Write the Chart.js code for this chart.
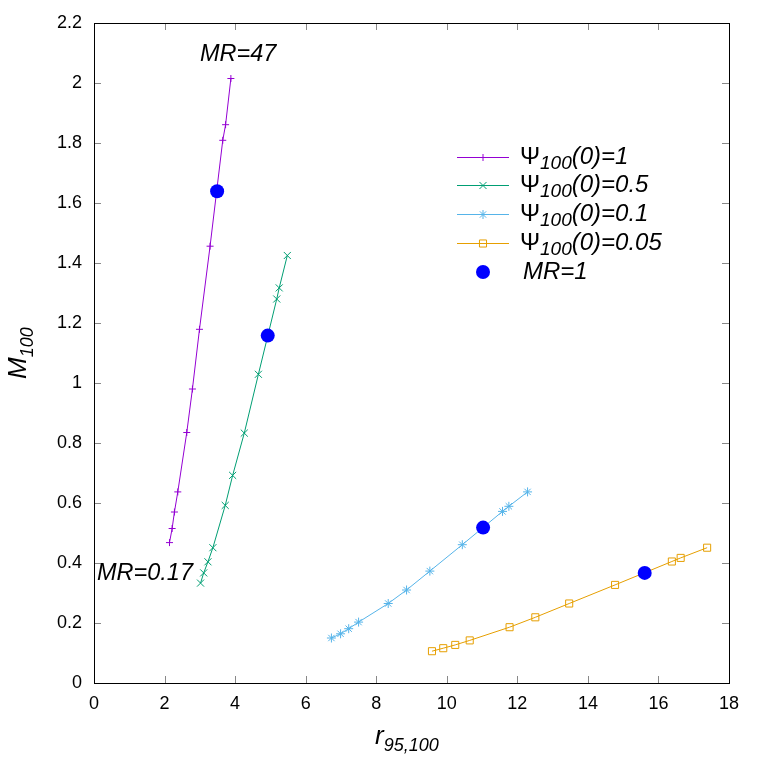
<!DOCTYPE html>
<html>
<head>
<meta charset="utf-8">
<script src="https://cdn.jsdelivr.net/npm/chart.js@4"></script>
<style>
  body { margin: 0; background: #fff; }
  #graf { display: block; }
</style>
</head>
<body>
<canvas id="graf" width="763" height="763"></canvas>
<script>
// datos
const psi1X = [2.14, 2.215, 2.28, 2.375, 2.63, 2.79, 2.99, 3.29, 3.65, 3.73, 3.88];
const psi1Y = [0.468, 0.515, 0.570, 0.637, 0.835, 0.980, 1.179, 1.456, 1.809, 1.861, 2.015];
const psi05X = [3.02, 3.11, 3.23, 3.37, 3.72, 3.93, 4.26, 4.66, 5.18, 5.25, 5.48];
const psi05Y = [0.333, 0.367, 0.404, 0.451, 0.592, 0.692, 0.833, 1.029, 1.28, 1.317, 1.425];
const psi01X = [6.73, 6.99, 7.22, 7.5, 8.34, 8.86, 9.52, 10.44, 11.58, 11.76, 12.29];
const psi01Y = [0.150, 0.164, 0.181, 0.203, 0.265, 0.310, 0.373, 0.461, 0.572, 0.589, 0.637];
const psi005X = [9.58, 9.9, 10.24, 10.65, 11.78, 12.51, 13.47, 14.77, 16.38, 16.63, 17.38];
const psi005Y = [0.106, 0.116, 0.127, 0.142, 0.186, 0.219, 0.265, 0.327, 0.405, 0.417, 0.451];
const mr1X = [3.49, 4.925, 11.03, 15.61];
const mr1Y = [1.639, 1.158, 0.518, 0.367];

const xTicks = [0, 2, 4, 6, 8, 10, 12, 14, 16, 18];
const yTicks = [0, 0.2, 0.4, 0.6, 0.8, 1, 1.2, 1.4, 1.6, 1.8, 2, 2.2];

const FUENTE = "'Liberation Sans', Arial, sans-serif";

function puntos(xs, ys) {
    return xs.map((x, i) => ({ x: x, y: ys[i] }));
}

const series = [
    { sub: "100", resto: "(0)=1", color: "#9400d3", estilo: "cross", radio: 3.5, xs: psi1X, ys: psi1Y },
    { sub: "100", resto: "(0)=0.5", color: "#009e73", estilo: "crossRot", radio: 5, xs: psi05X, ys: psi05Y },
    { sub: "100", resto: "(0)=0.1", color: "#56b4e9", estilo: "star", radio: 4.5, xs: psi01X, ys: psi01Y },
    { sub: "100", resto: "(0)=0.05", color: "#e69f00", estilo: "rect", radio: 5, xs: psi005X, ys: psi005Y }
];

const datasets = series.map(s => ({
    data: puntos(s.xs, s.ys),
    showLine: true,
    borderColor: s.color,
    backgroundColor: "rgba(0,0,0,0)",
    borderWidth: 1,
    pointStyle: s.estilo,
    pointRadius: s.radio,
    pointBorderColor: s.color,
    pointBorderWidth: 1,
    order: 1
}));
datasets.push({
    data: puntos(mr1X, mr1Y),
    showLine: false,
    pointStyle: "circle",
    pointRadius: 7,
    backgroundColor: "#0000ff",
    borderColor: "#0000ff",
    borderWidth: 0,
    order: 0
});

// texto con subindice
function textoSub(ctx, x, y, partes) {
    let cx = x;
    partes.forEach(p => {
        ctx.font = p.font;
        ctx.fillText(p.t, cx, y + (p.dy || 0));
        cx += ctx.measureText(p.t).width;
    });
}

const decorado = {
    id: "decorado",
    afterDraw(chart) {
        const ctx = chart.ctx;
        const a = chart.chartArea;
        const sx = chart.scales.x, sy = chart.scales.y;
        ctx.save();

        // ticks hacia adentro en los cuatro lados
        ctx.strokeStyle = "#888";
        ctx.lineWidth = 1;
        ctx.beginPath();
        xTicks.forEach(v => {
            const px = Math.round(sx.getPixelForValue(v)) + 0.5;
            ctx.moveTo(px, a.bottom); ctx.lineTo(px, a.bottom - 7);
            ctx.moveTo(px, a.top); ctx.lineTo(px, a.top + 7);
        });
        yTicks.forEach(v => {
            const py = Math.round(sy.getPixelForValue(v)) + 0.5;
            ctx.moveTo(a.left, py); ctx.lineTo(a.left + 7, py);
            ctx.moveTo(a.right, py); ctx.lineTo(a.right - 7, py);
        });
        ctx.stroke();

        ctx.strokeStyle = "#000";
        ctx.strokeRect(Math.round(a.left) + 0.5, Math.round(a.top) + 0.5,
            Math.round(a.right - a.left), Math.round(a.bottom - a.top));

        // leyenda
        ctx.textBaseline = "middle";
        const filas = [157, 185, 214, 243, 272];
        series.forEach((s, i) => {
            const y = filas[i];
            ctx.strokeStyle = s.color;
            ctx.fillStyle = "rgba(0,0,0,0)";
            ctx.lineWidth = 1;
            ctx.beginPath();
            ctx.moveTo(457, y + 0.5); ctx.lineTo(509, y + 0.5);
            ctx.stroke();
            Chart.helpers.drawPoint(ctx, { pointStyle: s.estilo, radius: s.radio, borderWidth: 1, rotation: 0 }, 483, y + 0.5);
            ctx.fillStyle = "#000";
            textoSub(ctx, 520, y, [
                { t: "\u03A8", font: "24px " + FUENTE },
                { t: s.sub, font: "italic 19px " + FUENTE, dy: 7 },
                { t: s.resto, font: "italic 24px " + FUENTE }
            ]);
        });
        ctx.fillStyle = "#0000ff";
        ctx.beginPath();
        ctx.arc(483, filas[4], 7, 0, Math.PI * 2);
        ctx.fill();
        ctx.fillStyle = "#000";
        ctx.font = "italic 24px " + FUENTE;
        ctx.fillText("MR=1", 523, filas[4]);

        // anotaciones
        ctx.textBaseline = "alphabetic";
        ctx.font = "italic 23.5px " + FUENTE;
        ctx.fillText("MR=47", 200, 61);
        ctx.fillText("MR=0.17", 97, 580);

        // titulos de ejes
        textoSub(ctx, 375, 744, [
            { t: "r", font: "italic 26px " + FUENTE },
            { t: "95,100", font: "italic 18px " + FUENTE, dy: 7 }
        ]);
        ctx.save();
        ctx.translate(26, 379);
        ctx.rotate(-Math.PI / 2);
        textoSub(ctx, 0, 0, [
            { t: "M", font: "italic 26px " + FUENTE },
            { t: "100", font: "italic 18px " + FUENTE, dy: 7 }
        ]);
        ctx.restore();

        ctx.restore();
    }
};

new Chart(document.getElementById("graf").getContext("2d"), {
    type: "scatter",
    data: { datasets: datasets },
    options: {
        responsive: false,
        animation: false,
        layout: { padding: { left: 0, top: 23, right: 34, bottom: 0 } },
        plugins: { legend: { display: false }, tooltip: { enabled: false } },
        scales: {
            x: {
                type: "linear",
                min: 0,
                max: 18,
                afterFit(scale) { scale.height = 80; },
                afterBuildTicks(scale) { scale.ticks = xTicks.map(v => ({ value: v })); },
                grid: { display: false, drawTicks: false },
                border: { display: false },
                ticks: {
                    color: "#000",
                    padding: 10,
                    maxRotation: 0,
                    font: { family: FUENTE, size: 18 }
                }
            },
            y: {
                type: "linear",
                min: 0,
                max: 2.2,
                afterFit(scale) { scale.width = 94; },
                afterBuildTicks(scale) { scale.ticks = yTicks.map(v => ({ value: v })); },
                grid: { display: false, drawTicks: false },
                border: { display: false },
                ticks: {
                    color: "#000",
                    padding: 12,
                    font: { family: FUENTE, size: 18 },
                    callback: v => String(parseFloat(v.toFixed(1)))
                }
            }
        }
    },
    plugins: [decorado]
});
</script>
</body>
</html>
